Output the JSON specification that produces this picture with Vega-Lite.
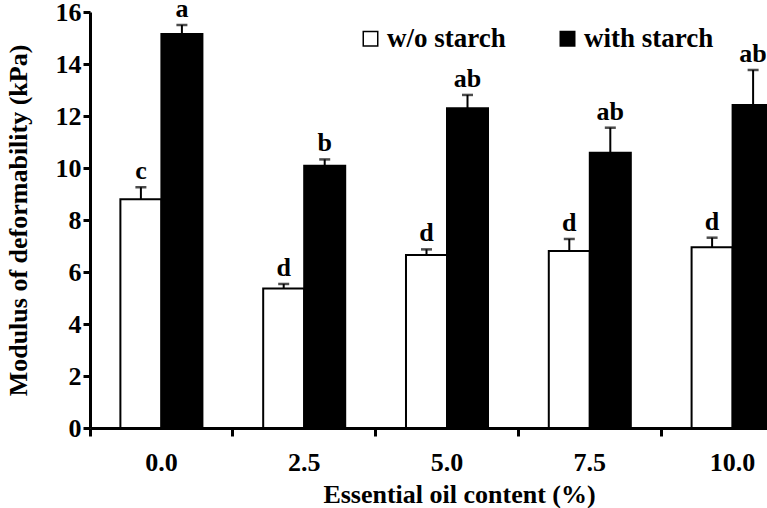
{
  "$schema": "https://vega.github.io/schema/vega-lite/v6.json",
  "width": 677,
  "height": 416,
  "autosize": {"type": "none"},
  "padding": {"left": 90, "top": 12, "right": 0, "bottom": 80},
  "background": "white",
  "config": {"view": {"stroke": null}, "font": "Liberation Serif"},
  "data": {"values": [
    {"oil": "0.0", "group": "w/o starch", "mean": 8.80, "upper": 9.26, "label": "c"},
    {"oil": "0.0", "group": "with starch", "mean": 15.15, "upper": 15.5, "label": "a"},
    {"oil": "2.5", "group": "w/o starch", "mean": 5.37, "upper": 5.54, "label": "d"},
    {"oil": "2.5", "group": "with starch", "mean": 10.09, "upper": 10.33, "label": "b"},
    {"oil": "5.0", "group": "w/o starch", "mean": 6.65, "upper": 6.87, "label": "d"},
    {"oil": "5.0", "group": "with starch", "mean": 12.30, "upper": 12.81, "label": "ab"},
    {"oil": "7.5", "group": "w/o starch", "mean": 6.81, "upper": 7.27, "label": "d"},
    {"oil": "7.5", "group": "with starch", "mean": 10.59, "upper": 11.55, "label": "ab"},
    {"oil": "10.0", "group": "w/o starch", "mean": 6.95, "upper": 7.32, "label": "d"},
    {"oil": "10.0", "group": "with starch", "mean": 12.42, "upper": 13.77, "label": "ab"}
  ]},
  "encoding": {
    "x": {
      "field": "oil", "type": "nominal",
      "sort": ["0.0", "2.5", "5.0", "7.5", "10.0"],
      "scale": {"range": [0, 714], "paddingInner": 0, "paddingOuter": 0},
      "axis": {
        "title": "Essential oil content (%)",
        "labelAngle": 0,
        "bandPosition": 0,
        "domainColor": "black", "domainWidth": 3,
        "tickColor": "black", "tickWidth": 3, "tickSize": 8,
        "labelFont": "Liberation Serif", "labelFontSize": 26, "labelFontWeight": "bold", "labelColor": "black",
        "labelPadding": 13,
        "titleFont": "Liberation Serif", "titleFontSize": 26, "titleFontWeight": "bold", "titleColor": "black",
        "titlePadding": 6,
        "titleX": 369, "titleAnchor": "middle"
      }
    },
    "xOffset": {
      "field": "group", "type": "nominal",
      "sort": ["w/o starch", "with starch"],
      "scale": {"paddingInner": 0, "paddingOuter": 0.741}
    }
  },
  "layer": [
    {
      "mark": {"type": "bar", "stroke": "black", "strokeWidth": 2},
      "encoding": {
        "y": {
          "field": "mean", "type": "quantitative",
          "scale": {"domain": [0, 16], "nice": false},
          "axis": {
            "title": "Modulus of deformability (kPa)",
            "values": [0, 2, 4, 6, 8, 10, 12, 14, 16],
            "grid": false,
            "domainColor": "black", "domainWidth": 3,
            "tickColor": "black", "tickWidth": 3, "tickSize": 7,
            "labelFont": "Liberation Serif", "labelFontSize": 26, "labelFontWeight": "bold", "labelColor": "black",
            "labelPadding": 2,
            "titleFont": "Liberation Serif", "titleFontSize": 26, "titleFontWeight": "bold", "titleColor": "black",
            "titlePadding": 24
          }
        },
        "fill": {
          "field": "group", "type": "nominal",
          "scale": {"domain": ["w/o starch", "with starch"], "range": ["white", "black"]},
          "legend": {
            "title": null,
            "orient": "none",
            "legendX": 267,
            "legendY": 13,
            "direction": "horizontal",
            "symbolType": "square",
            "symbolSize": 210,
            "symbolStrokeColor": "black",
            "symbolStrokeWidth": 1.5,
            "labelFont": "Liberation Serif",
            "labelFontSize": 27,
            "labelFontWeight": "bold",
            "labelColor": "black",
            "labelOffset": 3,
            "columnPadding": 48
          }
        }
      }
    },
    {
      "mark": {"type": "rule", "color": "black", "strokeWidth": 2},
      "encoding": {
        "y": {"field": "mean", "type": "quantitative"},
        "y2": {"field": "upper"}
      }
    },
    {
      "mark": {"type": "tick", "color": "black", "thickness": 2.5, "size": 11},
      "encoding": {
        "y": {"field": "upper", "type": "quantitative"}
      }
    },
    {
      "mark": {"type": "text", "baseline": "bottom", "dy": -3, "font": "Liberation Serif", "fontSize": 26, "fontWeight": "bold", "color": "black"},
      "encoding": {
        "y": {"field": "upper", "type": "quantitative"},
        "text": {"field": "label"}
      }
    }
  ]
}
